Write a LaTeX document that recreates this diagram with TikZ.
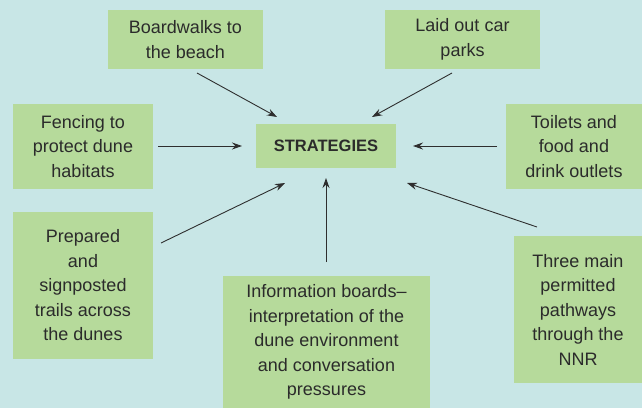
\documentclass[tikz,border=0pt]{standalone}
\usepackage{fontspec}
\setmainfont{Liberation Sans}
\usetikzlibrary{arrows.meta,calc}
\definecolor{bgc}{HTML}{C8E6E6}
\definecolor{boxc}{HTML}{B6DA9B}
\definecolor{txtc}{HTML}{2B2B2B}
\definecolor{arrc}{HTML}{2E2E2E}
\begin{document}
\begin{tikzpicture}[x=1pt,y=1pt,
  sbox/.style={fill=boxc,inner sep=0pt,outer sep=0pt,align=center,text=txtc,
    font=\fontsize{18}{24.5}\selectfont},
  arr/.style={draw=arrc,line width=0.9pt,-{Stealth[length=10pt,width=7pt]}}]
\fill[bgc] (0,0) rectangle (642,408);
\useasboundingbox (0,0) rectangle (642,408);
\node[sbox,minimum width=155pt,minimum height=59pt] (board) at (185.5,368.5) {Boardwalks to\\the beach};
\node[sbox,minimum width=155pt,minimum height=59pt] (laid) at (462.5,368.5) {Laid out car\\parks};
\node[sbox,minimum width=140pt,minimum height=85pt] (fence) at (83,261.5) {Fencing to\\protect dune\\habitats};
\node[sbox,minimum width=136pt,minimum height=85pt] (toil) at (574,261.5) {Toilets and\\food and\\drink outlets};
\node[sbox,minimum width=140pt,minimum height=44pt,font=\fontsize{16.5}{24}\selectfont\bfseries] (strat) at (326,262) {STRATEGIES};
\node[sbox,minimum width=140pt,minimum height=147pt] (prep) at (83,122.5) {Prepared\\and\\signposted\\trails across\\the dunes};
\node[sbox,minimum width=207pt,minimum height=132pt] (info) at (326.5,66) {Information boards--\\interpretation of the\\dune environment\\and conversation\\pressures};
\node[sbox,minimum width=128pt,minimum height=147pt] (three) at (578,98.5) {Three main\\permitted\\pathways\\through the\\NNR};
\draw[arr] ($(board.south)+(11.5,-4)$) -- ($(strat.north)+(-49,7)$);
\draw[arr] ($(laid.south)+(-10.5,-4)$) -- ($(strat.north)+(46,7)$);
\draw[arr] ($(fence.east)+(5,0.5)$) -- ($(strat.west)+(-14,0)$);
\draw[arr] ($(toil.west)+(-9,0.5)$) -- ($(strat.east)+(17,0)$);
\draw[arr] ($(prep.east)+(8,42.5)$) -- ($(strat.south)+(-41,-15)$);
\draw[arr] ($(info.north)+(-0.5,14)$) -- ($(strat.south)+(0,-10)$);
\draw[arr] ($(three.north)+(-41,9)$) -- ($(strat.south)+(81,-15)$);
\end{tikzpicture}
\end{document}
